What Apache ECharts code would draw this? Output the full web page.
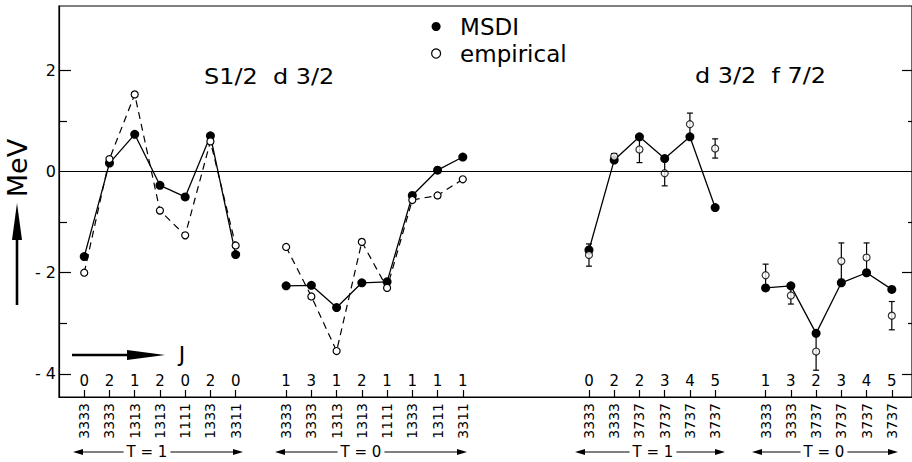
<!DOCTYPE html>
<html><head><meta charset="utf-8">
<script src="https://cdn.jsdelivr.net/npm/echarts@6/dist/echarts.min.js"></script>
<style>html,body{margin:0;padding:0;background:#fff}#c{width:912px;height:462px}</style>
</head><body><div id="c"></div>
<script>
// ---- data ----
// s1/2 d3/2, T=1
const jLeftT1   = ['0','2','1','2','0','2','0'];
const cfgLeftT1 = ['3333','3333','1313','1313','1111','1333','3311'];
const msdiLeftT1 = [-1.68, 0.17, 0.74, -0.27, -0.50, 0.71, -1.64];
const empLeftT1  = [-2.00, 0.25, 1.53, -0.77, -1.26, 0.60, -1.46];
// s1/2 d3/2, T=0
const jLeftT0   = ['1','3','1','2','1','1','1','1'];
const cfgLeftT0 = ['3333','3333','1313','1313','1111','1333','1311','3311'];
const msdiLeftT0 = [-2.26, -2.25, -2.69, -2.20, -2.18, -0.47, 0.03, 0.29];
const empLeftT0  = [-1.49, -2.47, -3.55, -1.39, -2.30, -0.56, -0.47, -0.15];
// d3/2 f7/2, T=1
const jRightT1   = ['0','2','2','3','4','5'];
const cfgRightT1 = ['3333','3333','3737','3737','3737','3737'];
const msdiRightT1 = [-1.55, 0.23, 0.69, 0.26, 0.69, -0.71];
const empRightT1  = [-1.65, 0.30, 0.44, -0.03, 0.94, 0.46];
const errRightT1  = [0.22, 0.06, 0.26, 0.25, 0.22, 0.19];
// d3/2 f7/2, T=0
const jRightT0   = ['1','3','2','3','4','5'];
const cfgRightT0 = ['3333','3333','3737','3737','3737','3737'];
const msdiRightT0 = [-2.30, -2.26, -3.20, -2.20, -2.00, -2.33];
const empRightT0  = [-2.05, -2.45, -3.56, -1.77, -1.70, -2.85];
const errRightT0  = [0.22, 0.17, 0.37, 0.36, 0.29, 0.28];

const yLabelValues = [-4, -2, 0, 2];
const yMajorTicks = [-4, -2, 2];
const yMinorTicks = [-3, -1, 1];

// ---- layout ----
const FONT = 'DejaVu Sans';
const groupStarts = [0, 8, 20, 27];
const groups = [
  {j: jLeftT1, cfg: cfgLeftT1, msdi: msdiLeftT1, emp: empLeftT1, err: null, dashed: true},
  {j: jLeftT0, cfg: cfgLeftT0, msdi: msdiLeftT0, emp: empLeftT0, err: null, dashed: true},
  {j: jRightT1, cfg: cfgRightT1, msdi: msdiRightT1, emp: empRightT1, err: errRightT1, dashed: false},
  {j: jRightT0, cfg: cfgRightT0, msdi: msdiRightT0, emp: empRightT0, err: errRightT0, dashed: false}
];
const allPos = [], jMap = {}, cfgMap = {};
groups.forEach((g, gi) => {
  g.pos = g.msdi.map((_, k) => groupStarts[gi] + k);
  g.pos.forEach((p, k) => { allPos.push(p); jMap[String(p)] = g.j[k]; cfgMap[String(p)] = g.cfg[k]; });
});

const YMIN = -4.46, YMAX = 3.28, XMIN = -1, XMAX = 32.8;
const blk = '#000';

const series = [];
groups.forEach((g, gi) => {
  const s = {
    name: 'MSDI', type: 'line', z: 3,
    data: g.pos.map((p, k) => [p, g.msdi[k]]),
    symbol: 'circle', symbolSize: 9,
    itemStyle: {color: blk},
    lineStyle: {color: blk, width: 1.3},
    animation: false
  };
  if (gi === 0) {
    s.markLine = {silent: true, symbol: 'none', label: {show: false},
      lineStyle: {color: blk, width: 1, type: 'solid'}, data: [{yAxis: 0}], animation: false};
  }
  series.push(s);
  if (g.dashed) {
    series.push({
      name: 'empirical', type: 'line', z: 4,
      data: g.pos.map((p, k) => [p, g.emp[k]]),
      symbol: 'circle', symbolSize: 7,
      itemStyle: {color: '#fff', borderColor: blk, borderWidth: 1.2},
      lineStyle: {color: blk, width: 1.2, type: [7, 5]},
      animation: false
    });
  } else {
    series.push({
      type: 'custom', z: 2, animation: false,
      data: g.pos.map((p, k) => [p, g.emp[k], g.err[k]]),
      encode: {x: 0, y: 1},
      renderItem: (params, api) => {
        const x = api.value(0), y = api.value(1), e = api.value(2);
        const t = api.coord([x, y + e]), b = api.coord([x, y - e]);
        const st = {stroke: blk, lineWidth: 1.2};
        return {type: 'group', children: [
          {type: 'line', shape: {x1: t[0], y1: t[1], x2: b[0], y2: b[1]}, style: st},
          {type: 'line', shape: {x1: t[0] - 3, y1: t[1], x2: t[0] + 3, y2: t[1]}, style: st},
          {type: 'line', shape: {x1: b[0] - 3, y1: b[1], x2: b[0] + 3, y2: b[1]}, style: st}
        ]};
      }
    });
    series.push({
      name: 'empirical', type: 'scatter', z: 4,
      data: g.pos.map((p, k) => [p, g.emp[k]]),
      symbol: 'circle', symbolSize: 7,
      itemStyle: {color: '#fff', borderColor: blk, borderWidth: 1.2},
      animation: false
    });
  }
});

function yAxisDef(pos, ticks, len, labels) {
  return {
    type: 'value', min: YMIN, max: YMAX, position: pos,
    axisLine: {show: !!labels, onZero: false, lineStyle: {color: blk, width: 1.2}},
    axisTick: {show: true, inside: true, length: len, customValues: ticks, lineStyle: {color: blk, width: 1.2}},
    axisLabel: labels ? {show: true, customValues: labels, margin: 3, color: blk, fontSize: 16, fontFamily: FONT,
      formatter: v => (v < 0 ? '- ' + (-v) : String(v))} : {show: false},
    splitLine: {show: false}
  };
}

function arrowH(x1, x2, y, txt, tx) {
  return [
    {type: 'line', shape: {x1: x1 + 6, y1: y, x2: x2 - 6, y2: y}, style: {stroke: blk, lineWidth: 1.1}},
    {type: 'polygon', shape: {points: [[x1, y], [x1 + 10, y - 3], [x1 + 10, y + 3]]}, style: {fill: blk}},
    {type: 'polygon', shape: {points: [[x2, y], [x2 - 10, y - 3], [x2 - 10, y + 3]]}, style: {fill: blk}},
    {type: 'text', x: tx, y: y, z: 10, style: {text: txt, font: '15px "' + FONT + '"', fill: blk,
      align: 'center', verticalAlign: 'middle', backgroundColor: '#fff', padding: [0, 3, 0, 3]}}
  ];
}
function title(x, y, txt) {
  return {type: 'text', x: x, y: y, scaleX: 1.14,
    style: {text: txt, font: '21px "' + FONT + '"', fill: blk, verticalAlign: 'middle'}};
}

const chart = echarts.init(document.getElementById('c'), null, {renderer: 'svg'});
chart.setOption({
  animation: false,
  backgroundColor: '#fff',
  grid: {left: 59, right: 0, top: 6, bottom: 65, show: true, borderColor: blk, borderWidth: 1.2, backgroundColor: 'transparent'},
  legend: {
    left: 426, top: 8, orient: 'vertical', itemWidth: 38, itemHeight: 9, itemGap: 0,
    textStyle: {fontFamily: FONT, fontSize: 23, color: blk, lineHeight: 27},
    data: [
      {name: 'MSDI', icon: 'circle', itemStyle: {color: blk, borderWidth: 0}},
      {name: 'empirical', icon: 'circle', itemStyle: {color: '#fff', borderColor: blk, borderWidth: 1.2}}
    ]
  },
  xAxis: [
    {type: 'value', min: XMIN, max: XMAX, position: 'bottom',
      axisLine: {show: true, onZero: false, lineStyle: {color: blk, width: 1.2}},
      axisTick: {show: true, inside: true, length: 7, customValues: allPos, lineStyle: {color: blk, width: 1.2}},
      axisLabel: {show: true, customValues: allPos, rotate: 90, margin: 6, color: blk, fontSize: 14, fontFamily: FONT,
        formatter: v => cfgMap[String(v)] || ''},
      splitLine: {show: false}},
    {type: 'value', min: XMIN, max: XMAX, position: 'bottom',
      axisLine: {show: false, onZero: false}, axisTick: {show: false},
      axisLabel: {show: true, inside: true, customValues: allPos, margin: 9, color: blk, fontSize: 15, fontFamily: FONT,
        formatter: v => jMap[String(v)] || ''},
      splitLine: {show: false}}
  ],
  yAxis: [
    yAxisDef('left', yMajorTicks, 12, yLabelValues),
    yAxisDef('left', yMinorTicks, 8, null),
    yAxisDef('right', yMajorTicks, 10, null),
    yAxisDef('right', yMinorTicks, 4, null)
  ],
  series: series,
  graphic: [
    title(204, 77, 'S1/2  d 3/2'),
    title(695, 76, 'd 3/2  f 7/2'),
    {type: 'text', x: 17, y: 168, rotation: Math.PI / 2, style: {text: 'MeV', font: '27px "' + FONT + '"', fill: blk, align: 'center', verticalAlign: 'middle'}},
    {type: 'polygon', shape: {points: [[17, 203], [12, 240], [22, 240]]}, style: {fill: blk}},
    {type: 'line', shape: {x1: 17, y1: 238, x2: 17, y2: 305}, style: {stroke: blk, lineWidth: 2.6}},
    {type: 'line', shape: {x1: 72, y1: 355, x2: 130, y2: 355}, style: {stroke: blk, lineWidth: 2.6}},
    {type: 'polygon', shape: {points: [[165, 355], [127, 350], [127, 360]]}, style: {fill: blk}},
    {type: 'text', x: 182, y: 354, style: {text: 'J', font: '22px "' + FONT + '"', fill: blk, align: 'center', verticalAlign: 'middle'}}
  ].concat(arrowH(73, 243, 452, 'T = 1', 147))
   .concat(arrowH(275, 467, 452, 'T = 0', 361))
   .concat(arrowH(575, 725, 452, 'T = 1', 653))
   .concat(arrowH(752, 898, 452, 'T = 0', 824))
});
</script></body></html>
